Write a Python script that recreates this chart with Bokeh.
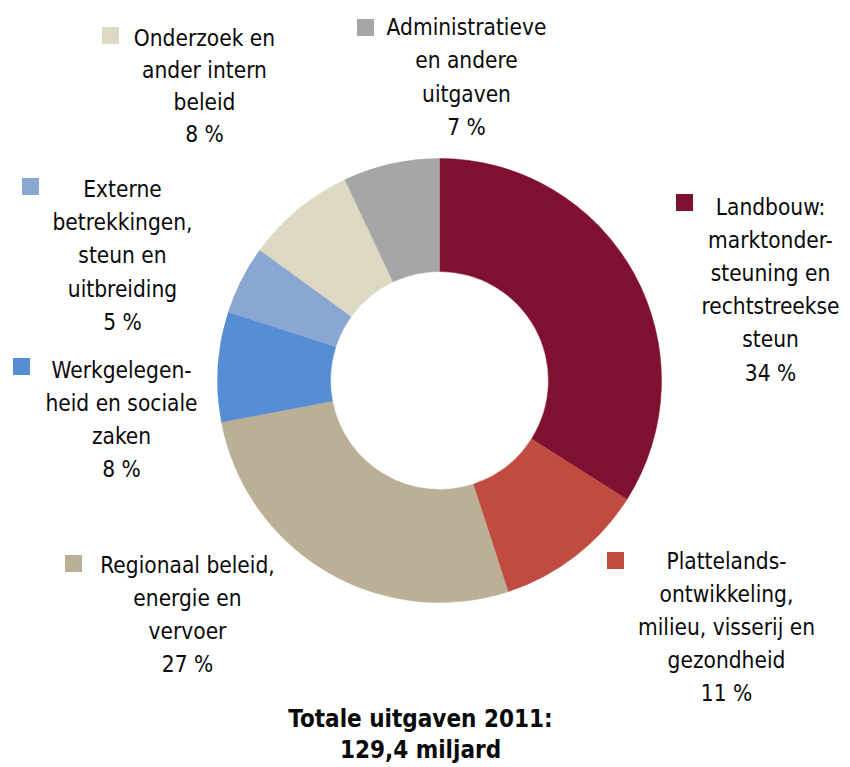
import math
from bokeh.plotting import figure
from bokeh.models import Range1d, ColumnDataSource
from bokeh.core.properties import value
from bokeh.embed import file_html
from bokeh.resources import INLINE

# ---- data ----
categories = [
    "Landbouw:\nmarktonder-\nsteuning en\nrechtstreekse\nsteun",
    "Plattelands-\nontwikkeling,\nmilieu, visserij en\ngezondheid",
    "Regionaal beleid,\nenergie en\nvervoer",
    "Werkgelegen-\nheid en sociale\nzaken",
    "Externe\nbetrekkingen,\nsteun en\nuitbreiding",
    "Onderzoek en\nander intern\nbeleid",
    "Administratieve\nen andere\nuitgaven",
]
shares = [34, 11, 27, 8, 5, 8, 7]
colors = ["#801030", "#C04B41", "#BBAF95", "#558ED5", "#8AA6D2", "#DDD9C3", "#A6A6A6"]
total_title = ["Totale uitgaven 2011:", "129,4 miljard"]

# ---- layout (screen pixel coordinates) ----
W, H = 850, 767
FONT = "DejaVu Sans Condensed"
FS = "22.5px"

def Y(py):
    return H - py

p = figure(width=W, height=H, x_range=Range1d(0, W), y_range=Range1d(0, H),
           output_backend="svg", toolbar_location=None, min_border=0)
p.axis.visible = False
p.grid.visible = False
p.outline_line_color = None
p.background_fill_color = "white"

# donut
cx, cy = 439, 380
r_out, r_in = 222, 109
tot = sum(shares)
starts, ends = [], []
cum = 0.0
for s in shares:
    starts.append(math.pi / 2 - 2 * math.pi * cum / tot)
    cum += s
    ends.append(math.pi / 2 - 2 * math.pi * cum / tot)
src = ColumnDataSource(dict(x=[cx] * len(shares), y=[Y(cy)] * len(shares),
                            start=starts, end=ends, color=colors))
p.annular_wedge(x="x", y="y", inner_radius=r_in, outer_radius=r_out,
                start_angle="start", end_angle="end", direction="clock",
                fill_color="color", line_color="color", line_width=0.5, source=src)

# label placement: (text center x, first line y, line spacing, square x, square y)
label_pos = [
    (770, 206, 33.2, 684, 202),
    (726, 560, 33.2, 615, 560),
    (187, 564, 33.0, 73, 563),
    (121, 369, 33.0, 21, 366),
    (122, 188, 33.4, 30, 186),
    (204, 37, 32.0, 110, 35),
    (466, 26, 33.5, 365, 27),
]

tx, ty, tt = [], [], []
sqx, sqy, sqc = [], [], []
for cat, sh, col, (lx, ly, sp, qx, qy) in zip(categories, shares, colors, label_pos):
    lines = cat.split("\n") + [f"{sh} %"]
    for i, ln in enumerate(lines):
        tx.append(lx)
        ty.append(Y(ly + i * sp))
        tt.append(ln)
    sqx.append(qx)
    sqy.append(Y(qy))
    sqc.append(col)

p.text(x=tx, y=ty, text=tt, text_font=value(FONT), text_font_size=FS,
       text_align="center", text_baseline="middle", text_color="#0a0a0a")
p.rect(x=sqx, y=sqy, width=17, height=17, fill_color=sqc, line_color=None)

# total
p.text(x=[420, 420], y=[Y(718), Y(749)], text=total_title, text_font=value(FONT),
       text_font_size="24px", text_font_style="bold", text_align="center",
       text_baseline="middle", text_color="#0a0a0a")

open("out.html", "w").write(file_html(p, INLINE))
